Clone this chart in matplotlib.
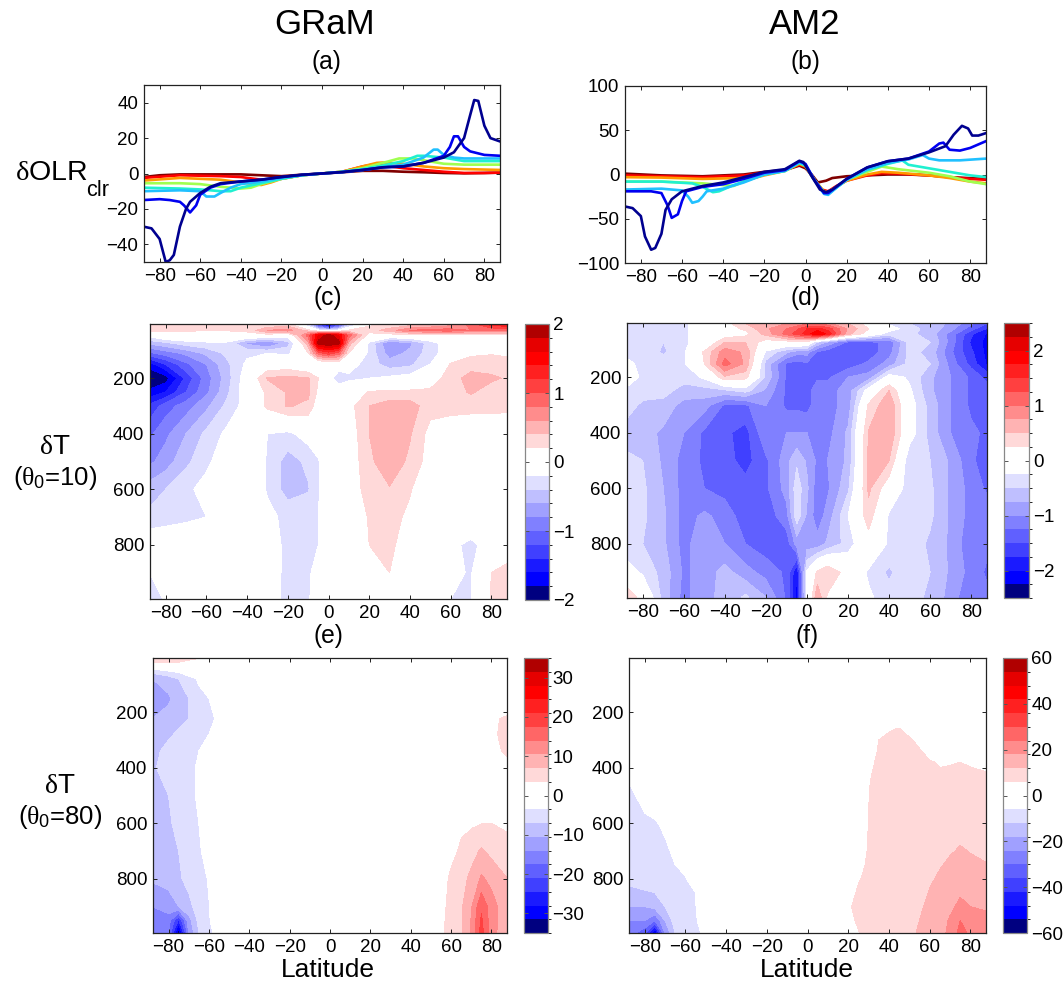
import matplotlib
matplotlib.use("Agg")
import matplotlib.pyplot as plt
from matplotlib.colors import ListedColormap, BoundaryNorm
import numpy as np

plt.rcParams['font.family'] = ['Liberation Sans', 'DejaVu Sans']
plt.rcParams['mathtext.fontset'] = 'custom'
plt.rcParams['mathtext.rm'] = 'Liberation Sans'
plt.rcParams['mathtext.it'] = 'Liberation Serif'
plt.rcParams['mathtext.bf'] = 'Liberation Sans:bold'

W, H = 1063, 982
XT = [-80, -60, -40, -20, 0, 20, 40, 60, 80]
PT = [200, 400, 600, 800]

BAND_COLORS = ['#000080', '#0000ff', '#1a1aff', '#4040ff', '#6060ff', '#8080ff', '#a0a0ff', '#bfbfff', '#dfdfff',
               '#ffffff', '#ffffff',
               '#ffd9d9', '#ffb3b3', '#ff8c8c', '#ff6666', '#ff4040', '#ff2020', '#ff0000', '#e60000', '#b00000']

# ---- panel (a): clear-sky OLR change, GRaM
A_LAT_1 = [-88,-80,-70,-50,-40,-30,-20,-10,0,10,20,30,40,50,60,70,80,88]
A_VAL_1 = [-2,-1,-.5,-.5,-.5,-1,-1.5,-.7,0,.7,1.5,1.5,1,.7,.3,.1,.3,.5]
A_LAT_2 = [-88,-70,-50,-40,-30,-20,-10,0,10,20,25,30,40,50,60,70,80,88]
A_VAL_2 = [-2.5,-1,-1.5,-2,-3.5,-3,-1,0,1,4,5,4.5,3,2,1,.3,.3,.5]
A_LAT_3 = [-88,-70,-50,-40,-30,-25,-20,-10,0,10,20,27,30,40,50,60,70,88]
A_VAL_3 = [-4,-2.5,-3.5,-5,-6.5,-5,-3,-1,0,1,4,6,6.2,5.5,4,3,2.5,2]
A_LAT_4 = [-88,-70,-60,-50,-40,-35,-30,-20,-10,0,10,20,30,38,45,50,60,70,88]
A_VAL_4 = [-5.5,-5.5,-6,-7.5,-8.5,-8,-6,-3,-1,0,1,3,6,8.5,8.5,7.5,5.5,5,5]
A_LAT_5 = [-88,-70,-60,-50,-45,-40,-30,-20,-10,0,10,20,30,40,47,50,55,60,70,88]
A_VAL_5 = [-8,-8.5,-9,-10,-10,-8,-5.5,-3,-1,0,1,2.5,4.5,7,10,10,9.5,9,7,7]
A_LAT_6 = [-88,-70,-60,-57,-53,-50,-45,-40,-30,-20,-10,0,10,20,30,40,50,55,57,60,65,70,88]
A_VAL_6 = [-10,-9.5,-10,-13,-13,-11,-8,-6,-4.5,-2.5,-1,0,.8,2,3.5,5,9,13.5,13.5,10.5,9,8.5,8.5]
A_LAT_7 = [-88,-80,-75,-70,-68,-65,-62,-60,-55,-50,-40,-30,-20,-10,0,10,20,30,40,50,55,60,63,65,67,70,73,80,88]
A_VAL_7 = [-15,-14.5,-15,-16,-18,-22,-18,-12,-8,-6,-4.5,-3.5,-2,-.8,0,.8,2,3.5,4,6,8,10,15,21,21,15,12.5,10.5,10]
A_LAT_8 = [-88,-84,-80,-77,-75,-73,-70,-67,-65,-60,-55,-50,-40,-30,-20,-10,0,10,20,30,40,50,60,65,70,73,75,77,80,83,88]
A_VAL_8 = [-30,-31,-37,-50,-49,-46,-30,-20,-16,-11,-7.5,-5.5,-4.5,-3.5,-2,-.7,0,.8,2,3.5,4,6,9,12,20,33,41.5,41,27,20,18]

# ---- panel (b): clear-sky OLR change, AM2
B_LAT_1 = [-88,-70,-50,-30,-20,-10,-3,0,3,6,10,13,20,30,40,50,60,70,88]
B_VAL_1 = [1,-1,-2,0,3,5,10,7,0,-9,-7,-4,-2,-1,0,0,-1,-3,-5]
B_LAT_2 = [-88,-70,-50,-30,-20,-10,-3,0,4,8,11,15,20,30,37,45,60,70,80,88]
B_VAL_2 = [-1,-2,-3,-1,2,5,11,9,-5,-17,-19,-13,-7,-1,1.5,1,-1,-3,-5,-6]
B_LAT_3 = [-88,-70,-50,-30,-25,-20,-10,-3,0,4,9,11,15,20,30,37,45,60,70,80,88]
B_VAL_3 = [-3,-3.5,-5,-4,-4,-1,4,12,9,-5,-19,-20,-14,-7,0,3,2,-1,-4,-8,-10]
B_LAT_4 = [-88,-70,-50,-40,-35,-30,-20,-10,-3,0,4,9,11,15,20,30,37,45,60,70,80,88]
B_VAL_4 = [-8,-8,-10,-12,-13,-8,0,4,13,10,-5,-20,-21,-14,-6,3,9,6,2,-2,-8,-11]
B_LAT_5 = [-88,-70,-55,-50,-45,-42,-35,-30,-20,-10,-3,0,4,9,11,15,20,30,40,47,50,60,70,80,88]
B_VAL_5 = [-8,-8,-10,-14,-20,-19,-12,-8,0,4,13,10,-5,-21,-22,-15,-6,5,12,16,11,7,3,-1,-3]
B_LAT_6 = [-88,-70,-60,-57,-55,-52,-50,-48,-40,-30,-20,-10,-3,0,4,9,11,15,20,30,40,50,57,60,65,75,88]
B_VAL_6 = [-17,-16,-18,-25,-32,-30,-25,-19,-16,-9,0,4,14,11,-5,-22,-23,-15,-6,6,13,17,22,18,16,16,18]
B_LAT_7 = [-88,-75,-70,-67,-65,-62,-60,-58,-50,-40,-30,-20,-10,-3,0,4,9,11,15,20,30,40,50,60,65,67,70,75,80,88]
B_VAL_7 = [-19,-19,-21,-35,-49,-45,-30,-19,-14,-11,-5,2,5,15,12,-5,-21,-21,-14,-5,8,15,18,26,35,36,28,27,30,38]
B_LAT_8 = [-88,-84,-80,-78,-75,-73,-70,-68,-65,-60,-50,-40,-30,-20,-10,-3,-1,3,7,10,13,20,30,40,50,60,68,72,76,79,81,84,88]
B_VAL_8 = [-36,-38,-47,-70,-85,-83,-67,-40,-28,-19,-13,-9,-3,3,6,15.5,14,-2,-17,-20,-17,-5,8,15,18,25,32,45,55,52,44,44,47]

LINE_COLORS = ['#800000', '#ff0000', '#ff9900', '#a0ff50', '#20f0d0', '#20c0ff', '#0000f0', '#000090']

# ---- panels (c), (d): temperature change, theta0 = 10
CD_LAT = [-88,-80,-70,-60,-50,-40,-30,-20,-10,-5,0,5,10,20,30,40,50,60,70,80,88]
C_P = [6,28,45,74,110,150,200,250,300,400,500,600,700,800,900,995]
C_T = [
 [.3,.3,.3,.25,.25,.2,.2,.25,-.5,-1.5,-2.1,-1.5,-.6,.15,.22,.28,.35,.5,.9,1.3,1.4],
 [.25,.25,.22,.21,.21,.25,.6,.7,.3,-.1,-.3,-.1,.25,.3,.5,.8,.9,.9,.8,.8,.8],
 [-.1,.1,.1,.1,.1,.1,.1,-.05,.9,1.6,1.9,1.6,.9,.1,.1,.1,.1,.15,.15,.15,.15],
 [-.55,-.45,-.3,-.25,-.25,-.65,-.85,-.5,.5,1.9,2.1,1.9,.5,-.25,-.8,-.65,-.3,-.05,.05,.05,.05],
 [-1.05,-.9,-.75,-.55,-.35,-.25,-.2,-.25,.2,.9,1.1,.9,.2,-.25,-.7,-.55,-.3,-.05,.15,.18,.15],
 [-1.7,-1.4,-1.05,-.8,-.45,-.15,0,.05,-.1,-.15,-.05,-.05,-.1,-.3,-.5,-.45,-.2,.22,.32,.32,.3],
 [-2.1,-1.9,-1.35,-.9,-.5,-.05,.42,.45,.42,.2,-.1,-.35,-.25,-.2,-.15,-.1,.05,.32,.47,.43,.38],
 [-1.75,-1.6,-1.2,-.85,-.45,-.05,.25,.42,.45,.15,0,0,0,.22,.25,.25,.25,.32,.42,.32,.28],
 [-1.35,-1.1,-.9,-.65,-.35,-.1,.25,.42,.35,.05,0,0,.12,.4,.5,.5,.28,.28,.28,.28,.26],
 [-1.05,-.85,-.6,-.35,-.15,-.05,-.2,-.25,-.1,-.05,0,0,.05,.4,.55,.42,.12,.05,0,0,0],
 [-.85,-.7,-.45,-.25,-.05,0,-.22,-.5,-.35,-.22,0,0,.05,.35,.55,.35,.1,0,0,0,0],
 [-.5,-.4,-.25,-.12,0,0,-.22,-.5,-.42,-.22,-.05,0,.05,.3,.38,.22,0,0,0,0,0],
 [-.35,-.3,-.25,-.2,-.05,0,-.15,-.25,-.25,-.2,0,0,0,.22,.28,.15,0,0,0,0,0],
 [0,0,0,0,0,0,-.1,-.25,-.25,-.2,0,0,0,.2,.28,0,0,-.15,-.25,-.1,0],
 [-.2,-.1,0,0,0,0,-.1,-.25,-.22,-.15,0,0,0,.2,.2,0,0,-.15,-.22,.2,.3],
 [-.45,-.15,0,0,0,0,-.12,-.25,-.22,-.1,0,-.1,0,.2,.2,0,0,-.2,-.22,.22,.3],
]
D_P = [6,26,44,74,110,152,200,248,302,400,500,600,700,800,902,992]
D_T = [
 [-.3,-.35,-.3,-.3,-.1,.15,.5,.7,.75,.8,.9,.9,.8,.5,.1,-.3,-.5,-.6,-.8,-1.2,-1.5],
 [-.3,-.3,-.3,-.3,-.1,.1,.3,.7,1.0,1.2,1.5,1.6,1.4,.7,.25,-.1,-.4,-.6,-.9,-1.4,-1.8],
 [-.3,-.3,-.35,-.3,-.1,.05,.15,.6,1.1,1.35,1.6,2.0,1.7,.6,.1,-.4,-.45,-.6,-1.1,-1.7,-2.05],
 [-.3,-.3,-.5,-.3,-.1,.5,.5,.1,.1,.2,.1,-.5,-.8,-1.3,-1.3,-1.2,-.4,-.5,-1.1,-1.8,-2.1],
 [-.3,-.3,-.55,-.3,.3,.9,.7,-.3,-.7,-.9,-.9,-1.3,-1.4,-1.4,-1.4,-1.1,-.4,-.6,-1.2,-1.7,-2.1],
 [-.2,-.3,-.3,-.3,.25,1.1,.7,-.6,-1.3,-1.35,-1.3,-1.35,-1.4,-1.4,-1.2,-.9,-.4,-.5,-1.1,-1.6,-2.05],
 [-.1,-.3,-.3,-.4,-.2,.45,.35,-.55,-1.3,-1.3,-1.3,-1.3,-1.3,-1.0,-.9,-.1,-.3,-.7,-1.0,-1.3,-1.6],
 [-.3,-.4,-.4,-.6,-.6,-.55,-.4,-.8,-1.3,-1.3,-1.35,-1.1,-1.1,-.9,-.1,.5,-.2,-.7,-1.0,-1.3,-1.4],
 [-.4,-.55,-.6,-.85,-.9,-1.3,-1.3,-1.0,-1.3,-1.3,-1.35,-1.1,-1.1,-.9,.3,.7,-.1,-.6,-1.0,-1.3,-1.4],
 [-.6,-.65,-.8,-1.0,-1.3,-1.45,-1.6,-1.05,-1.0,-1.0,-1.0,-1.05,-1.1,-.7,.52,.72,-.1,-.6,-1.0,-1.2,-1.3],
 [-.45,-.5,-.8,-1.1,-1.3,-1.4,-1.6,-1.3,-.85,-.55,-.8,-1.05,-1.0,-.7,.55,.5,-.45,-.5,-.8,-1.2,-1.4],
 [-.4,-.45,-.75,-1.1,-1.25,-1.35,-1.4,-1.3,-.9,-.35,-.7,-1.15,-1.05,-.55,.55,.05,-.4,-.45,-.8,-1.1,-1.3],
 [-.4,-.45,-.7,-1.1,-.95,-1.1,-1.4,-1.4,-1.1,-.35,-.8,-1.15,-.9,-.25,.4,-.3,-.35,-.45,-.8,-1.1,-1.1],
 [-.45,-.5,-.7,-1.1,-.8,-1.0,-1.25,-1.4,-1.4,-.9,-.9,-.9,-.7,-.4,.1,-.3,-.35,-.55,-.8,-1.2,-1.2],
 [-.1,-.3,-.6,-1.05,-.9,-.65,-.9,-1.1,-1.3,-2.0,-.2,.3,.5,.1,-.3,-.55,-.3,-.5,-.8,-1.1,-1.3],
 [.5,.1,-.6,-1.1,-.8,-.7,-.45,-.75,-1.3,-2.1,-.2,.7,.2,-.05,-.2,-.4,-.4,-.55,-.85,-1.25,-1.2],
]

# ---- panel (e): temperature change, theta0 = 80, GRaM
E_LAT = [-88,-80,-75,-70,-65,-60,-55,-50,50,55,60,65,70,75,80,88]
E_P = [6,20,44,60,80,150,224,280,340,400,500,600,700,800,900,950,995]
E_T = [
 [5,4.5,4.2,4,3.6,0,0,0,0,0,0,0,0,0,0,0],
 [3.7,3.6,3.5,3,1,0,0,0,0,0,0,0,0,0,0,0],
 [-3.5,-2,-1,0,0,0,0,0,0,0,0,0,0,0,0,0],
 [-7,-5,-4,-2,-1,0,0,0,0,0,0,0,0,0,0,0],
 [-10.5,-9,-7,-5,-3,-1,0,0,0,0,0,0,0,0,0,0],
 [-13,-11,-9,-7,-4.5,-3.5,-1,0,0,0,0,0,0,0,0,1],
 [-10.5,-9.5,-8,-7,-5,-4.2,-3,0,0,0,0,0,0,1,3,4],
 [-9,-7.5,-6.5,-5,-4,-3.5,-1,0,0,0,0,0,0,1,3,4.3],
 [-8,-6,-5,-4.5,-3.5,-2,0,0,0,0,0,0,0,1,3,3.8],
 [-7.5,-5.5,-5,-4.5,-3,-1,0,0,0,0,0,0,0,0,1,3],
 [-8,-7,-5.5,-4.5,-3,-1,0,0,0,0,0,0,0,0,0,0],
 [-8.5,-7.5,-6,-4.5,-3.5,-1,0,0,0,0,1,2.5,3,3.4,3.5,3],
 [-9,-8,-7,-5,-4,-2,0,0,0,0,2,4.3,5.5,7.5,6,4.5],
 [-10,-9.5,-7.5,-6,-4.5,-3.3,0,0,0,1,4.5,5.5,8,11,9.5,7],
 [-14,-12,-10.5,-8,-5.5,-3.6,-1,0,0,2,5,6.5,10,17,12,8],
 [-15,-16,-25,-12,-6,-3.8,-1.5,0,0,2.3,5.3,6.5,10.7,18,12,8],
 [-16,-17,-36,-14,-7,-4.5,-2,0,0,2.5,5.5,6.5,11,19,12,7.5],
]

# ---- panel (f): temperature change, theta0 = 80, AM2
F_LAT = [-88,-80,-75,-70,-65,-60,-55,-50,-40,15,20,25,30,35,40,45,50,55,60,65,70,75,80,88]
F_P = [6,200,260,300,340,380,450,600,700,750,800,850,900,950,995]
F_T = [
 [0]*24,
 [0]*24,
 [0,0,0,0,0,0,0,0,0,0,0,0,0,2,5.5,6.2,4.5,1,0,0,0,1,1,0],
 [0,0,0,0,0,0,0,0,0,0,0,0,2,6,7,7.3,6.5,5,2,2,2,3,3,2],
 [-2,0,0,0,0,0,0,0,0,0,0,0,3,6.5,8,8,7,6.3,5,5,5,5,5,4.5],
 [-4,-1,0,0,0,0,0,0,0,0,0,0,4.5,7,8,8,7.5,7,6.2,5.8,5.9,6,5.8,5.5],
 [-6,-3,-1,0,0,0,0,0,0,0,0,0,5.8,7,8,8,7.5,7,7,6.5,6.5,6.7,6.6,6.5],
 [-7.5,-7,-6.5,-5,-2,0,0,0,0,0,0,1,6.1,8,8,8,8,7.5,8,8,9,10,9.5,9],
 [-9,-8,-7.5,-7,-5,-3,-1,0,0,0,0,3,6.5,8,8.5,8.5,8.5,7.8,9,10,11.5,12.5,11.8,11],
 [-10,-9,-8.2,-7.5,-6,-5,-2,0,0,0,.5,4,7,8.2,8.7,9,9,8,10,11.5,13,14,13,12.2],
 [-11,-10,-9,-8,-7,-6.3,-3,0,0,0,1.5,5.5,7.5,8.5,9,9.5,9.5,8,11,13,14,16,15,14],
 [-13,-12.5,-12,-9,-7.5,-6.7,-6,-1,0,0,3.5,6.8,8,8.7,9.3,10,10,9,12.5,14,15,17.5,16.5,15.5],
 [-18,-18,-16,-12,-8,-7,-6.2,-2,0,2,5.5,7,8.5,9,9.5,10,10.5,11,13.5,15,17,19,18,17],
 [-24,-24,-30,-18,-9,-7.5,-6.5,-3.5,0,2.5,5,6.5,8,9,9.7,10.2,10.7,12,14,16,18.5,24,22,20],
 [-27,-34,-56,-24,-12,-8,-7,-5,0,1,3.5,5.8,8,9,10,10.5,11,12.5,14.5,16.5,19,26,23,24],
]

# ---- colour bar ranges and ticks
C_MAX, D_MAX, E_MAX, F_MAX = 2, 2.5, 35, 60
C_TICKS = [-2, -1, 0, 1, 2]
D_TICKS = [-2, -1, 0, 1, 2]
E_TICKS = [-30, -20, -10, 0, 10, 20, 30]
F_TICKS = [-60, -40, -20, 0, 20, 40, 60]


def axpx(l, t, r, b):
    return fig.add_axes([l / W, 1 - b / H, (r - l) / W, (b - t) / H])


def style(ax):
    ax.tick_params(direction='in', length=3, width=0.7, top=True, right=True, labelsize=13.5, pad=4, color='#222222')
    for s in ax.spines.values():
        s.set_linewidth(0.9)
        s.set_color('#222222')
    ax.set_xlim(-87.7, 87.7)
    ax.set_xticks(XT)


def label(x, y, s, size, **kw):
    fig.text(x / W, 1 - y / H, s, fontsize=size, ha='center', va='center', **kw)


def lines(ax, series):
    for (lat, val), col in zip(series, LINE_COLORS):
        ax.plot(lat, val, color=col, lw=1.9, solid_joinstyle='round')


def panel(box, cbox, lat, p, t, vmax, ticks):
    ax = axpx(*box)
    levels = np.linspace(-vmax, vmax, 21)
    cmap = ListedColormap(BAND_COLORS)
    norm = BoundaryNorm(levels, cmap.N)
    data = np.clip(np.array(t, dtype=float), -vmax * 0.999, vmax * 0.999)
    cf = ax.contourf(lat, p, data, levels=levels, cmap=cmap, norm=norm)
    style(ax)
    ax.set_ylim(995, 5)
    ax.set_yticks(PT)
    cax = axpx(*cbox)
    cb = fig.colorbar(cf, cax=cax, ticks=ticks, spacing='proportional')
    cb.ax.tick_params(direction='in', length=3, width=0.7, labelsize=13.5, pad=3, color='#555555', right=True, left=True)
    cb.outline.set_edgecolor('#888888')
    cb.outline.set_linewidth(0.9)
    return ax


fig = plt.figure(figsize=(W / 100, H / 100), dpi=100, facecolor='white')

ax_a = axpx(144, 85, 500, 262)
lines(ax_a, [(A_LAT_1, A_VAL_1), (A_LAT_2, A_VAL_2), (A_LAT_3, A_VAL_3), (A_LAT_4, A_VAL_4),
             (A_LAT_5, A_VAL_5), (A_LAT_6, A_VAL_6), (A_LAT_7, A_VAL_7), (A_LAT_8, A_VAL_8)])
style(ax_a)
ax_a.set_ylim(-50, 50)
ax_a.set_yticks([-40, -20, 0, 20, 40])

ax_b = axpx(625, 86, 986, 263)
lines(ax_b, [(B_LAT_1, B_VAL_1), (B_LAT_2, B_VAL_2), (B_LAT_3, B_VAL_3), (B_LAT_4, B_VAL_4),
             (B_LAT_5, B_VAL_5), (B_LAT_6, B_VAL_6), (B_LAT_7, B_VAL_7), (B_LAT_8, B_VAL_8)])
style(ax_b)
ax_b.set_ylim(-100, 100)
ax_b.set_yticks([-100, -50, 0, 50, 100])

panel((150, 324, 507, 599), (525, 324, 549, 600), CD_LAT, C_P, C_T, C_MAX, C_TICKS)
panel((627, 323, 987, 598), (1004, 323, 1029, 598), CD_LAT, D_P, D_T, D_MAX, D_TICKS)
panel((153, 658, 507, 933), (524, 658, 548, 933), E_LAT, E_P, E_T, E_MAX, E_TICKS)
panel((629, 658, 986, 933), (1003, 658, 1027, 933), F_LAT, F_P, F_T, F_MAX, F_TICKS)

label(325, 25, 'GRaM', 25)
label(805, 25, 'AM2', 25)
label(326, 62, '(a)', 17.7)
label(805, 62, '(b)', 17.7)
label(328, 298, '(c)', 17.7)
label(805, 298, '(d)', 17.7)
label(328, 636, '(e)', 17.7)
label(807, 636, '(f)', 17.7)
label(51, 173, r'$\delta$OLR', 20.5)
label(98, 190, 'clr', 15.7)
label(55, 447, r'$\delta$T', 20)
label(55, 478, r'($\theta_{\mathrm{0}}$=10)', 18.5)
label(60, 786, r'$\delta$T', 20)
label(60, 817, r'($\theta_{\mathrm{0}}$=80)', 18.5)
label(328, 970, 'Latitude', 19)
label(807, 970, 'Latitude', 19)

fig.savefig('out.png', dpi=100, facecolor='white')
